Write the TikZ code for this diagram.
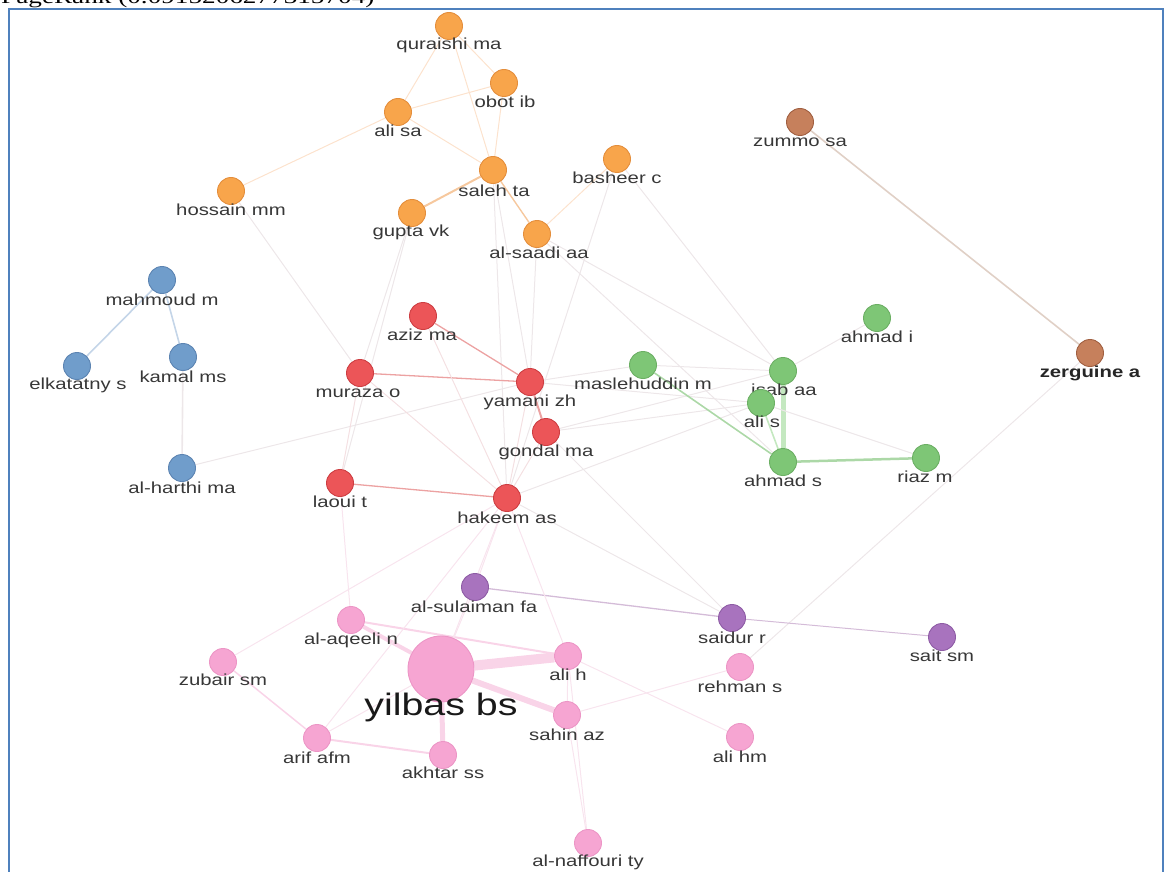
\documentclass[tikz,border=0pt]{standalone}
\usepackage{fontspec}
\setmainfont{Liberation Serif}
\newfontfamily\labfont[FakeStretch=1.27]{Liberation Sans}
\newfontfamily\titfont[FakeStretch=1.36]{Liberation Serif}
\usetikzlibrary{backgrounds}
\definecolor{txt}{RGB}{55,55,55}
\definecolor{frameblue}{RGB}{79,129,189}
\definecolor{fOr}{RGB}{248,165,75}\definecolor{dOr}{RGB}{228,142,60}
\definecolor{fBl}{RGB}{112,157,203}\definecolor{dBl}{RGB}{92,132,178}
\definecolor{fRd}{RGB}{236,85,88}\definecolor{dRd}{RGB}{205,62,66}
\definecolor{fGr}{RGB}{126,198,118}\definecolor{dGr}{RGB}{108,175,100}
\definecolor{fBr}{RGB}{198,128,92}\definecolor{dBr}{RGB}{160,95,65}
\definecolor{fPu}{RGB}{168,115,190}\definecolor{dPu}{RGB}{142,92,165}
\definecolor{fPk}{RGB}{246,165,210}\definecolor{dPk}{RGB}{236,150,198}
\definecolor{eGray}{RGB}{237,231,233}
\definecolor{eOr}{RGB}{252,226,205}\definecolor{eOrS}{RGB}{246,200,158}
\definecolor{eRd}{RGB}{236,162,162}\definecolor{eRdF}{RGB}{244,224,226}
\definecolor{eGr}{RGB}{172,216,167}\definecolor{eGrT}{RGB}{196,232,192}
\definecolor{eBl}{RGB}{196,213,232}
\definecolor{eBr}{RGB}{224,208,198}
\definecolor{ePu}{RGB}{212,188,216}
\definecolor{ePk}{RGB}{249,212,232}\definecolor{ePkF}{RGB}{248,228,238}
\tikzset{
  vtx/.style={circle, minimum size=27pt, inner sep=0pt, line width=0.9pt},
  vor/.style={vtx, fill=fOr, draw=dOr},
  vbl/.style={vtx, fill=fBl, draw=dBl},
  vrd/.style={vtx, fill=fRd, draw=dRd},
  vgr/.style={vtx, fill=fGr, draw=dGr},
  vbr/.style={vtx, fill=fBr, draw=dBr},
  vpu/.style={vtx, fill=fPu, draw=dPu},
  vpk/.style={vtx, fill=fPk, draw=dPk},
  lab/.style={font=\labfont\fontsize{16}{18}\selectfont, text=txt, inner sep=0pt},
  eg/.style={draw=eGray, line width=1pt},
  eo/.style={draw=eOr, line width=1pt},
  eos/.style={draw=eOrS, line width=2pt},
  er/.style={draw=eRd, line width=1.3pt},
  erf/.style={draw=eRdF, line width=1pt},
  egr/.style={draw=eGr, line width=1.6pt},
  ebl/.style={draw=eBl, line width=1.6pt},
  ebr/.style={draw=eBr, line width=1.6pt},
  epu/.style={draw=ePu, line width=1.3pt},
  epk/.style={draw=ePk, line width=2pt},
  epkf/.style={draw=ePkF, line width=1pt},
}
\begin{document}
\begin{tikzpicture}[x=1pt, y=-1pt]
\useasboundingbox (0,0) rectangle (1170,872);
\node[anchor=base west, font=\titfont\fontsize{20}{24}\selectfont, inner sep=0pt] (title) at (1,3.5) {PageRank (0.0915206277315704)};
\draw[frameblue, line width=2pt] (9,9) rectangle (1163,900);

% orange
\node[vor] (qur) at (449,26) {};   \node[lab] (lqur) at (449,45) {quraishi ma};
\node[vor] (obo) at (504,83) {};   \node[lab] (lobo) at (505,102) {obot ib};
\node[vor] (alisa) at (398,112) {};\node[lab] (lalisa) at (398,131) {ali sa};
\node[vor] (sal) at (493,170) {};  \node[lab] (lsal) at (494,191) {saleh ta};
\node[vor] (bas) at (617,159) {};  \node[lab] (lbas) at (617,178) {basheer c};
\node[vor] (hos) at (231,191) {};  \node[lab] (lhos) at (231,210) {hossain mm};
\node[vor] (gup) at (412,213) {};  \node[lab] (lgup) at (411,232) {gupta vk};
\node[vor] (saa) at (537,234) {};  \node[lab] (lsaa) at (539,253) {al-saadi aa};
% blue
\node[vbl] (mah) at (162,280) {};  \node[lab] (lmah) at (162,300) {mahmoud m};
\node[vbl] (elk) at (77,366) {};   \node[lab] (lelk) at (78,385) {elkatatny s};
\node[vbl] (kam) at (183,357) {};  \node[lab] (lkam) at (183,377) {kamal ms};
\node[vbl] (har) at (182,468) {};  \node[lab] (lhar) at (182,488) {al-harthi ma};
% red
\node[vrd] (azi) at (423,316) {};  \node[lab] (lazi) at (422,335) {aziz ma};
\node[vrd] (mur) at (360,373) {};  \node[lab] (lmur) at (358,393) {muraza o};
\node[vrd] (yam) at (530,382) {};  \node[lab] (lyam) at (530,402) {yamani zh};
\node[vrd] (gon) at (546,432) {};  \node[lab] (lgon) at (546,452) {gondal ma};
\node[vrd] (lao) at (340,483) {};  \node[lab] (llao) at (340,502) {laoui t};
\node[vrd] (hak) at (507,498) {};  \node[lab] (lhak) at (507,518) {hakeem as};
% green
\node[vgr] (mas) at (643,365) {};  \node[lab] (lmas) at (643,384) {maslehuddin m};
\node[vgr] (isa) at (783,371) {};  \node[lab] (lisa) at (784,390) {isab aa};
\node[vgr] (alis) at (761,403) {}; \node[lab] (lalis) at (762,422) {ali s};
\node[vgr] (ahi) at (877,318) {};  \node[lab] (lahi) at (877,337) {ahmad i};
\node[vgr] (ahs) at (783,462) {};  \node[lab] (lahs) at (783,481) {ahmad s};
\node[vgr] (ria) at (926,458) {};  \node[lab] (lria) at (925,477) {riaz m};
% brown
\node[vbr] (zum) at (800,122) {};  \node[lab] (lzum) at (800,142) {zummo sa};
\node[vbr] (zer) at (1090,353) {}; \node[lab, font=\labfont\bfseries\fontsize{16}{18}\selectfont, text=black!85] (lzer) at (1090,373) {zerguine a};
% purple
\node[vpu] (sul) at (475,587) {};  \node[lab] (lsul) at (474,607) {al-sulaiman fa};
\node[vpu] (sai) at (732,618) {};  \node[lab] (lsai) at (732,638) {saidur r};
\node[vpu] (sait) at (942,637) {}; \node[lab] (lsait) at (942,656) {sait sm};
% pink
\node[vpk] (aqe) at (351,620) {};  \node[lab] (laqe) at (351,640) {al-aqeeli n};
\node[vpk] (zub) at (223,662) {};  \node[lab] (lzub) at (223,680) {zubair sm};
\node[vpk, minimum size=66pt] (yil) at (441,669) {};
\node[lab, font=\labfont\fontsize{31}{34}\selectfont, text=black!90] (lyil) at (441,707) {yilbas bs};
\node[vpk] (alih) at (568,656) {}; \node[lab] (lalih) at (568,675) {ali h};
\node[vpk] (sah) at (567,715) {};  \node[lab] (lsah) at (567,735) {sahin az};
\node[vpk] (ari) at (317,738) {};  \node[lab] (lari) at (317,758) {arif afm};
\node[vpk] (akh) at (443,755) {};  \node[lab] (lakh) at (443,773) {akhtar ss};
\node[vpk] (reh) at (740,667) {};  \node[lab] (lreh) at (740,687) {rehman s};
\node[vpk] (alihm) at (740,737) {};\node[lab] (lalihm) at (740,757) {ali hm};
\node[vpk] (naf) at (588,843) {};  \node[lab] (lnaf) at (588,862) {al-naffouri ty};

\begin{scope}[on background layer]
% cross-cluster faint
\draw[eg] (hos) -- (mur);
\draw[eg] (gup) -- (mur);
\draw[eg] (gup) -- (lao);
\draw[eg] (sal) -- (yam);
\draw[eg] (sal) -- (hak);
\draw[eg] (saa) -- (isa);
\draw[eg] (saa) -- (yam);
\draw[eg] (saa) -- (ahs);
\draw[eg] (bas) -- (hak);
\draw[eg] (bas) -- (isa);
\draw[eg] (har) -- (yam);
\draw[eg] (yam) -- (alis);
\draw[eg] (gon) -- (alis);
\draw[eg] (hak) -- (alis);
\draw[eg] (yam) -- (mas);
\draw[eg] (gon) -- (isa);
\draw[eg] (zer) -- (reh);
\draw[eg] (hak) -- (sai);
\draw[eg] (gon) -- (sai);
% orange
\draw[eo] (qur) -- (obo);
\draw[eo] (qur) -- (sal);
\draw[eo] (qur) -- (alisa);
\draw[eo] (alisa) -- (obo);
\draw[eo] (alisa) -- (sal);
\draw[eo] (alisa) -- (hos);
\draw[eo] (obo) -- (sal);
\draw[eo] (bas) -- (saa);
\draw[eos] (sal) -- (gup);
\draw[eos, line width=1.4pt] (sal) -- (saa);
% blue
\draw[ebl] (mah) -- (elk);
\draw[ebl] (mah) -- (kam);
\draw[ebl, draw=eGray] (kam) -- (har);
% red
\draw[er] (azi) -- (yam);
\draw[er] (mur) -- (yam);
\draw[er, line width=2pt] (yam) -- (gon);
\draw[er] (lao) -- (hak);
\draw[erf] (azi) -- (hak);
\draw[erf] (mur) -- (hak);
\draw[erf] (mur) -- (lao);
\draw[erf] (yam) -- (hak);
\draw[erf] (gon) -- (hak);
% green
\draw[egr] (mas) -- (ahs);
\draw[egr, draw=eGrT, line width=5pt] (isa) -- (ahs);
\draw[egr, line width=2.5pt] (ahs) -- (ria);
\draw[eg] (alis) -- (ria);
\draw[eg] (mas) -- (isa);
\draw[eg] (isa) -- (ahi);
\draw[egr, draw=eGrT] (alis) -- (ahs);
% brown
\draw[ebr] (zum) -- (zer);
% purple
\draw[epu] (sul) -- (sai);
\draw[epu, line width=1pt] (sai) -- (sait);
% pink
\draw[epk, line width=10pt] (yil) -- (alih);
\draw[epk, line width=6pt] (yil) -- (sah);
\draw[epk, line width=5pt] (yil) -- (akh);
\draw[epk, line width=4pt] (yil) -- (aqe);
\draw[epk] (aqe) -- (alih);
\draw[epk] (ari) -- (akh);
\draw[epk, line width=1.5pt] (zub) -- (ari);
\draw[epkf] (alih) -- (sah);
\draw[epkf] (sah) -- (naf);
\draw[epkf] (alih) -- (naf);
\draw[epkf] (sah) -- (reh);
\draw[epkf] (alih) -- (alihm);
\draw[epkf] (lao) -- (aqe);
\draw[epkf] (zub) -- (hak);
\draw[epkf] (hak) -- (sul);
\draw[epkf] (hak) -- (yil);
\draw[epkf] (hak) -- (alih);
\draw[epkf] (ari) -- (yil);
\draw[epkf] (sul) -- (yil);
\draw[epkf] (ari) -- (hak);
\end{scope}
\end{tikzpicture}
\end{document}
